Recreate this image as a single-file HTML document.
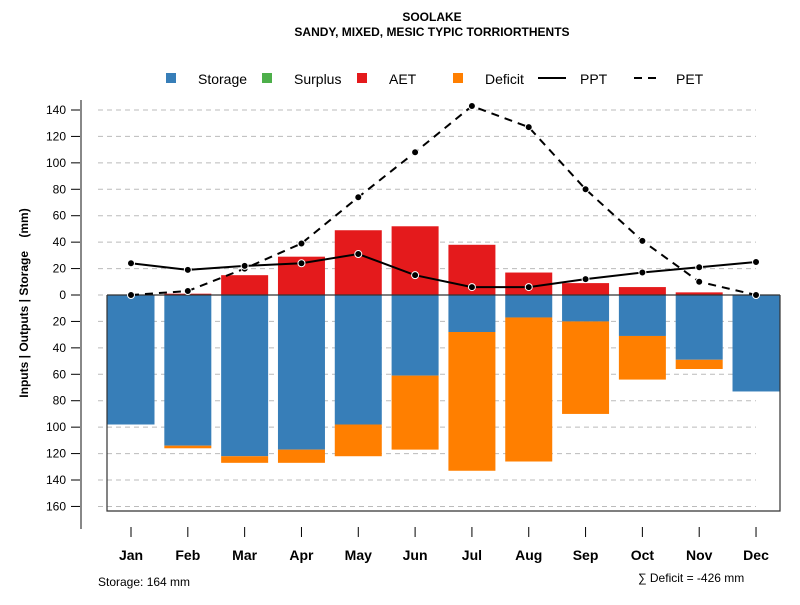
<!DOCTYPE html>
<html><head><meta charset="utf-8"><style>
body{margin:0;background:#fff}
svg text{font-family:"Liberation Sans",Arial,sans-serif}
</style></head><body>
<svg id="c" width="800" height="600" xmlns="http://www.w3.org/2000/svg">
<text x="432" y="21" text-anchor="middle" font-size="12" font-weight="bold">SOOLAKE</text>
<text x="432" y="36" text-anchor="middle" font-size="12" font-weight="bold">SANDY, MIXED, MESIC TYPIC TORRIORTHENTS</text>
<g>
<rect x="166" y="73" width="10" height="10" fill="#377eb8"/>
<text x="198" y="84" font-size="14">Storage</text>
<rect x="262" y="73" width="10" height="10" fill="#4daf4a"/>
<text x="294" y="84" font-size="14">Surplus</text>
<rect x="357" y="73" width="10" height="10" fill="#e41a1c"/>
<text x="389" y="84" font-size="14">AET</text>
<rect x="453" y="73" width="10" height="10" fill="#ff7f00"/>
<text x="485" y="84" font-size="14">Deficit</text>
<line x1="538" y1="78" x2="566" y2="78" stroke="#000" stroke-width="2"/>
<text x="580" y="84" font-size="14">PPT</text>
<line x1="634" y1="78" x2="662" y2="78" stroke="#000" stroke-width="2" stroke-dasharray="8,6"/>
<text x="676" y="84" font-size="14">PET</text>
</g>
<text transform="translate(28,303) rotate(-90)" text-anchor="middle" font-size="12" font-weight="bold">Inputs | Outputs | Storage&#160;&#160;&#160;&#160;(mm)</text>
<text x="98" y="586" font-size="12">Storage: 164 mm</text>
<text x="638" y="582" font-size="12">∑ Deficit = -426 mm</text>
<g id="grid"></g><g id="bars"></g><g id="axes"></g><g id="lines"></g>
</svg>
<script>
const months=["Jan","Feb","Mar","Apr","May","Jun","Jul","Aug","Sep","Oct","Nov","Dec"];
const ppt=[24,19,22,24,31,15,6,6,12,17,21,25];
const pet=[0,3,20,39,74,108,143,127,80,41,10,0];
const aet=[0,1,15,29,49,52,38,17,9,6,2,0];
const storage=[98,114,122,117,98,61,28,17,20,31,49,73];
const deficit=[0,2,5,10,24,56,105,109,70,33,7,0];
const yTicks=[140,120,100,80,60,40,20,0,-20,-40,-60,-80,-100,-120,-140,-160];
const NS="http://www.w3.org/2000/svg";
const y=v=>295-v*1.3215;
const x=i=>131+i*56.82;
const bw=47;
function mk(tag,attrs,parent){const e=document.createElementNS(NS,tag);for(const k in attrs)e.setAttribute(k,attrs[k]);document.getElementById(parent).appendChild(e);return e;}
yTicks.forEach(t=>{
 let g=mk('line',{x1:98,x2:756,y1:y(t),y2:y(t),stroke:'#bbb','stroke-dasharray':'5,4'},'grid');
 
 
 let tk=mk('line',{x1:71,x2:81,y1:y(t),y2:y(t),stroke:'#000'},'axes');
 
 
 let tx=mk('text',{x:66,y:y(t)+4,'text-anchor':'end','font-size':12},'axes');
 tx.textContent=Math.abs(t);
 
 
});
months.forEach((m,i)=>{
 let cx=x(i);
 let r=mk('rect',{x:cx-bw/2,y:y(aet[i]),width:bw,height:aet[i]*1.3215,fill:'#e41a1c'},'bars');
 
 
 let s=mk('rect',{x:cx-bw/2,y:y(0),width:bw,height:storage[i]*1.3215,fill:'#377eb8'},'bars');
 
 
 let d=mk('rect',{x:cx-bw/2,y:y(-storage[i]),width:bw,height:deficit[i]*1.3215,fill:'#ff7f00'},'bars');
 
 
 let tk=mk('line',{x1:cx,x2:cx,y1:527,y2:537,stroke:'#000'},'axes');
 
 
 let tl=mk('text',{x:cx,y:560,'text-anchor':'middle','font-size':14,'font-weight':'bold'},'axes');
 tl.textContent=m;
 
 
});
let box=mk('path',{d:`M107,${y(0)} V511 H780 V${y(0)} M107,${y(0)} H780`,fill:'none',stroke:'#333','stroke-width':1.2},'axes');


let ya=mk('line',{x1:81,x2:81,y1:100,y2:529,stroke:'#888','stroke-width':2},'axes');


function series(arr,name,dash){
 let p=mk('polyline',{points:arr.map((v,i)=>x(i)+','+y(v)).join(' '),fill:'none',stroke:'#000','stroke-width':2,'stroke-dasharray':dash},'lines');
 
 
 arr.forEach((v,i)=>{
  let c=mk('circle',{cx:x(i),cy:y(v),r:3.5,fill:'#000',stroke:'#fff','stroke-width':1},'lines');
  
  
 });
}
series(pet,'pet','8,6');
series(ppt,'ppt','none');
</script>
</body></html>
